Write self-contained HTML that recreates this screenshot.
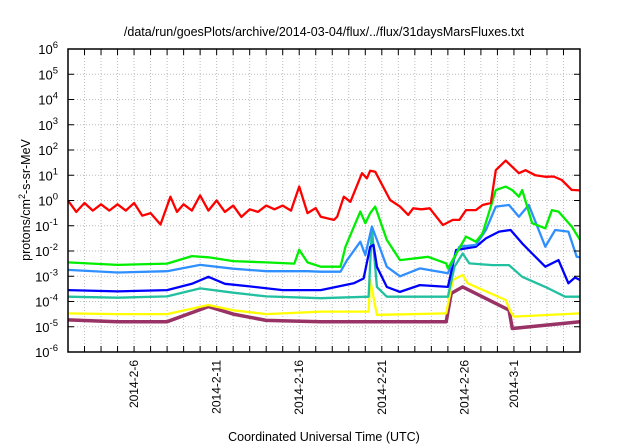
<!DOCTYPE html>
<html><head><meta charset="utf-8"><style>
body{margin:0;background:#fff;}
svg{display:block;font-family:"Liberation Sans",sans-serif;}
</style></head><body>
<svg id="chart" width="640" height="448" viewBox="0 0 640 448">
<rect width="640" height="448" fill="#fff"/>
<text x="324" y="36" text-anchor="middle" font-size="12.5">/data/run/goesPlots/archive/2014-03-04/flux/../flux/31daysMarsFluxes.txt</text>
<text x="324" y="441" text-anchor="middle" font-size="12.5">Coordinated Universal Time (UTC)</text>
<text transform="translate(30,200) rotate(-90)" text-anchor="middle" font-size="12.5">protons/cm<tspan dy="-5" font-size="9">2</tspan><tspan dy="5">-s-sr-MeV</tspan></text>
<g id="grid"></g><g id="series"></g><g id="axes"></g>
</svg>
<script>
const dayTicks=[4,9,14,19,24,27];
const dayTickLabels=["2014-2-6","2014-2-11","2014-2-16","2014-2-21","2014-2-26","2014-3-1"];
const decades=[-6,-5,-4,-3,-2,-1,0,1,2,3,4,5,6];
const redDays=[0,.5,1,1.5,2,2.5,3,3.5,4,4.5,5,5.6,6.2,6.6,7,7.5,8,8.5,9,9.5,10,10.5,11,11.5,12,12.5,13,13.5,14,14.5,15,15.3,16.1,16.3,16.7,17.1,17.8,18.1,18.3,18.6,19.5,20.1,20.6,20.9,21.4,21.9,22.7,23.3,23.7,24.1,24.7,25.1,25.6,25.9,26.5,27.3,27.7,28.3,28.9,29.4,29.9,30.5,31];
const redLog=[0,-.45,-.1,-.4,-.15,-.4,-.15,-.4,-.1,-.6,-.5,-.95,.15,-.45,-.15,-.4,.2,-.4,0,-.45,-.2,-.65,-.35,-.45,-.2,-.35,-.2,-.4,.55,-.5,-.3,-.64,-.77,-.64,.15,-.05,1.08,.88,1.18,1.14,.02,-.24,-.57,-.31,-.35,-.31,-.97,-.77,-.77,-.38,-.38,-.18,-.1,1.2,1.58,1.08,1.2,1.0,.94,.95,.81,.42,.4];
const greenDays=[0,3,6,7.5,8.5,10,12,13.7,14,14.5,15.3,16.5,16.8,17.7,18,18.3,18.6,19.3,20.1,21.8,22.9,23,24.1,24.7,25.1,25.9,26.5,26.9,27.3,27.5,28.1,28.9,29.3,29.7,30.5,31];
const greenLog=[-2.45,-2.55,-2.5,-2.2,-2.25,-2.4,-2.45,-2.5,-1.95,-2.45,-2.62,-2.62,-1.83,-.44,-.9,-.5,-.24,-1.56,-2.36,-2.23,-2.49,-2.69,-1.43,-1.63,-1.3,.41,.55,.41,.15,.41,-.9,-1.1,-.38,-.44,-1.03,-1.56];
const lblueDays=[0,3,6,8,10,12,14.5,15.3,16.5,16.9,17.7,18,18.4,18.7,19.3,20.1,21.3,23,23.7,24.7,25.3,25.9,26.7,27.3,27.9,28.9,29.5,30.3,30.8,31];
const lblueLog=[-2.75,-2.85,-2.8,-2.55,-2.7,-2.8,-2.8,-2.82,-2.82,-2.36,-1.63,-2.16,-1.03,-1.56,-2.62,-3,-2.69,-2.88,-1.83,-1.76,-1.17,-.24,-.18,-.64,-.18,-1.83,-1.17,-1.23,-2.23,-2.25];
const blueDays=[0,3,6,7.5,8.5,9.5,11,13,15.3,17.3,17.9,18.3,18.5,18.7,19.3,20.1,21.3,23,23.5,24.7,25.3,26.1,26.8,27.5,28.1,28.9,29.7,30.3,30.7,31];
const blueLog=[-3.55,-3.6,-3.55,-3.3,-3.02,-3.3,-3.4,-3.55,-3.55,-3.28,-3.09,-1.83,-1.76,-2.62,-3.42,-3.62,-3.35,-3.42,-1.96,-1.83,-1.5,-1.23,-1.17,-1.7,-2.1,-2.62,-2.36,-3.28,-3.05,-3.15];
const tealDays=[0,3,6,8,10,12,15.3,18.2,18.4,18.7,19.3,23,23.4,23.9,24.3,25.7,26.7,27.5,28.9,30.1,31];
const tealLog=[-3.81,-3.85,-3.8,-3.48,-3.65,-3.8,-3.87,-3.81,-1.1,-3.42,-3.81,-3.81,-2.62,-2.1,-2.49,-2.56,-2.56,-3.02,-3.42,-3.81,-3.81];
const yellowDays=[0,3,6,8.5,10,12,15.3,18.2,18.3,18.7,22.9,23.3,23.9,24.2,26.5,26.8,27,31];
const yellowLog=[-4.47,-4.5,-4.5,-4.14,-4.35,-4.5,-4.4,-4.4,-3.15,-4.53,-4.47,-3.15,-2.95,-3.28,-3.94,-4.4,-4.6,-4.47];
const purpleDays=[0,3,6,8.5,10,12,15.3,18.3,22.9,23.2,23.9,26.7,26.9,31];
const purpleLog=[-4.73,-4.8,-4.8,-4.2,-4.5,-4.75,-4.8,-4.8,-4.8,-3.68,-3.42,-4.34,-5.07,-4.8];
const L=68,R=580,T=49,B=352,NS="http://www.w3.org/2000/svg";
const xs=d=>L+d*(R-L)/31;
const ys=v=>B-(v+6)*(B-T)/12;
function mk(tag,attrs,parent){const e=document.createElementNS(NS,tag);for(const k in attrs)e.setAttribute(k,attrs[k]);parent.appendChild(e);return e;}
const grid=document.getElementById('grid'),axes=document.getElementById('axes'),ser=document.getElementById('series');
for(let d=1;d<31;d++){const g=mk('line',{x1:xs(d),x2:xs(d),y1:T,y2:B,stroke:'#bbb','stroke-dasharray':'1,2'},grid);


const t1=mk('line',{x1:xs(d),x2:xs(d),y1:B,y2:B-6,stroke:'#000'},axes);


const t2=mk('line',{x1:xs(d),x2:xs(d),y1:T,y2:T+6,stroke:'#000'},axes);

}
decades.forEach(p=>{const y=ys(p);
if(p>-6&&p<6){const g=mk('line',{x1:L,x2:R,y1:y,y2:y,stroke:'#bbb','stroke-dasharray':'1,2'},grid);

}
const tk=mk('line',{x1:L,x2:L+6,y1:y,y2:y,stroke:'#000'},axes);


const tk2=mk('line',{x1:R,x2:R-6,y1:y,y2:y,stroke:'#000'},axes);


const t=mk('text',{x:58,y:y+5,'text-anchor':'end','font-size':'13'},axes);


t.textContent='10';const s=mk('tspan',{dy:-6,'font-size':'9.5'},t);s.textContent=String(p);});
dayTicks.forEach((d,i)=>{const t=mk('text',{transform:`translate(${xs(d)+4},360) rotate(-90)`,'text-anchor':'end','font-size':'12'},axes);


t.textContent=dayTickLabels[i];});
const fr=mk('rect',{x:L,y:T,width:R-L,height:B-T,fill:'none',stroke:'#000','stroke-width':1.5},axes);


function line(days,vals,color,w,name){const pts=days.map((d,i)=>xs(d).toFixed(1)+','+ys(vals[i]).toFixed(1)).join(' ');
const p=mk('polyline',{points:pts,fill:'none',stroke:color,'stroke-width':w,'stroke-linejoin':'round'},ser);

}
line(purpleDays,purpleLog,'#993366',3.5,'series-purple');
line(yellowDays,yellowLog,'#ffff00',2.3,'series-yellow');
line(tealDays,tealLog,'#20c0a0',2.3,'series-teal');
line(blueDays,blueLog,'#0000ff',2.3,'series-dark-blue');
line(lblueDays,lblueLog,'#2f8fff',2.3,'series-light-blue');
line(greenDays,greenLog,'#00ee00',2.3,'series-green');
line(redDays,redLog,'#ff0000',2.3,'series-red');
</script>
</body></html>
